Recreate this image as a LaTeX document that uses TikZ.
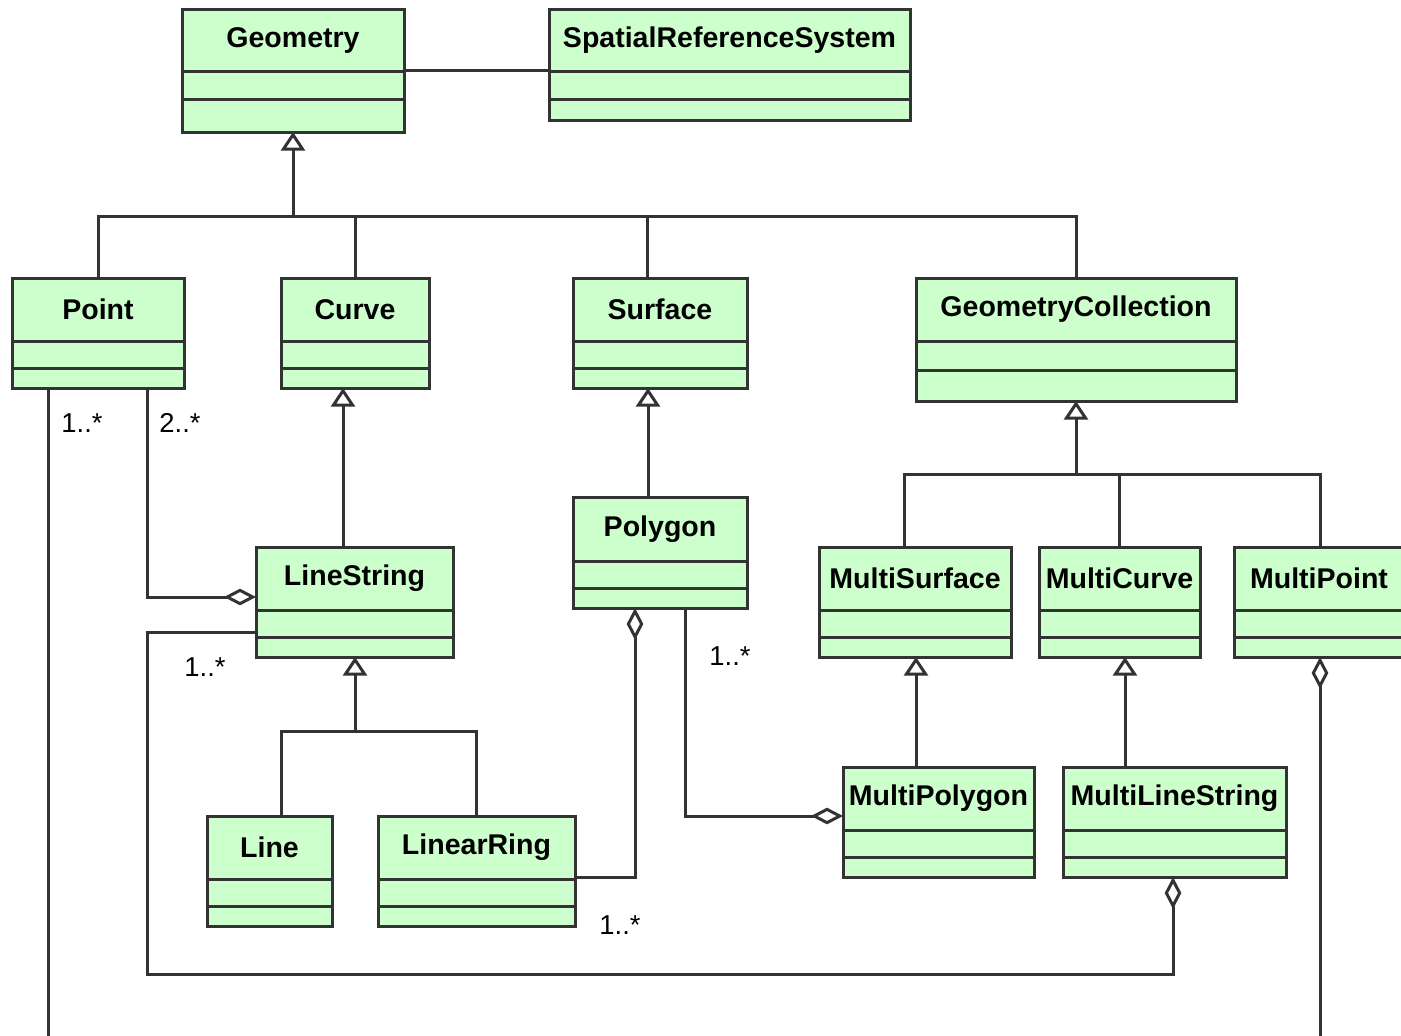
\documentclass[tikz,border=0pt]{standalone}
\usepackage{fontspec}
\setmainfont{Liberation Sans}
\usetikzlibrary{arrows.meta,fit,calc}
\definecolor{umlfill}{HTML}{CCFFCC}
\definecolor{umlline}{HTML}{333333}
\tikzset{
  clsbox/.style={draw=umlline, fill=umlfill, line width=2.25pt, inner sep=0pt, outer sep=0pt},
  clstitle/.style={font=\bfseries\fontsize{21.4}{24}\selectfont, inner sep=0pt},
  divider/.style={draw=umlline, line width=2.25pt},
  conn/.style={draw=umlline, line width=2.25pt},
  gen/.style={conn, {Triangle[open, length=14pt, width=18pt]}-},
  agg/.style={conn, -{Diamond[open, length=24pt, width=12.5pt]}},
  aggs/.style={conn, {Diamond[open, length=24pt, width=12.5pt]}-},
  mult/.style={font=\fontsize{20.5}{23}\selectfont, inner sep=0pt},
}
\newcommand\umlclass[8]{%
  \node[clsbox, fit={(#2,#3) (#4,#5)}] (#1) {};
  \draw[divider] (#2,#6) -- (#4,#6) (#2,#7) -- (#4,#7);
  \node[clstitle] (#1-t) at ({(#2+#4)/2},{(#3+#6)/2}) {#8};
}
\begin{document}
\begin{tikzpicture}[x=0.75pt, y=-0.75pt]
\useasboundingbox (0,0) rectangle (1401,1035);
\clip (0,0) rectangle (1401,1035);
\fill[white] (0,0) rectangle (1401,1035);

\umlclass{geom}{182}{9}{404}{132}{71}{99}{Geometry}
\umlclass{srs}{549}{9}{910}{120}{71}{99}{SpatialReferenceSystem}
\umlclass{pt}{12}{278}{184}{388}{341}{368}{Point}
\umlclass{crv}{281}{278}{429}{388}{341}{368}{Curve}
\umlclass{srf}{573}{278}{747}{388}{341}{368}{Surface}
\umlclass{gc}{916}{278}{1236}{401}{341}{370}{GeometryCollection}
\umlclass{pg}{573}{497}{747}{608}{561}{588}{Polygon}
\umlclass{ls}{256}{547}{453}{657}{610}{637}{LineString}
\umlclass{ms}{819}{547}{1011}{657}{610}{637}{MultiSurface}
\umlclass{mc}{1039}{547}{1200}{657}{610}{637}{MultiCurve}
\umlclass{mp}{1234}{547}{1404}{657}{610}{637}{MultiPoint}
\umlclass{ln}{207}{816}{332}{926}{879}{906}{Line}
\umlclass{lr}{378}{816}{575}{926}{879}{906}{LinearRing}
\umlclass{mpg}{843}{767}{1034}{877}{830}{857}{MultiPolygon}
\umlclass{mls}{1063}{767}{1286}{877}{830}{857}{MultiLineString}

% helper coordinates
\coordinate (j1) at (293,216);
\coordinate (j2) at (1076,474);
\coordinate (j3) at (355,731);
\coordinate (xSrf) at (647,0);
\coordinate (xCl) at (343,0);
\coordinate (xSp) at (648,0);
\coordinate (xMs) at (904,0);
\coordinate (xMc) at (1119,0);
\coordinate (xMcL) at (1125,0);
\coordinate (xMsL) at (916,0);
\coordinate (xLn) at (281,0);
\coordinate (xP1) at (48,0);
\coordinate (xP2) at (147,0);
\coordinate (xPg1) at (635,0);
\coordinate (xPg2) at (685,0);
\coordinate (xMls) at (1173,0);
\coordinate (xMp) at (1320,0);
\coordinate (c1) at (147,974);
\coordinate (pbot) at (48,1045);
\coordinate (mpbot) at (1320,1045);

% association Geometry -- SRS
\draw[conn] (geom.east) -- (geom.east -| srs.west);

% generalizations from Geometry
\draw[gen] (geom.south -| j1) -- (j1);
\draw[conn] (pt.north) |- (gc.north |- j1) -- (gc.north);
\draw[conn] (crv.north) -- (crv.north |- j1);
\draw[conn] (srf.north -| xSrf) -- (xSrf |- j1);

\draw[gen] (crv.south -| xCl) -- (ls.north -| xCl);
\draw[gen] (srf.south -| xSp) -- (pg.north -| xSp);

% GeometryCollection children
\draw[gen] (gc.south) -- (j2);
\draw[conn] (ms.north -| xMs) |- (xMp |- j2) -- (mp.north -| xMp);
\draw[conn] (mc.north -| xMc) -- (xMc |- j2);

% LineString children
\draw[gen] (ls.south -| j3) -- (j3);
\draw[conn] (ln.north -| xLn) |- (lr.north |- j3) -- (lr.north);

\draw[gen] (ms.south -| xMsL) -- (mpg.north -| xMsL);
\draw[gen] (mc.south -| xMcL) -- (mls.north -| xMcL);

% aggregations
\draw[conn] (pt.south -| xP1) -- (pbot);
\draw[aggs] (mp.south -| xMp) -- (mpbot);
\draw[agg] (pt.south -| xP2) |- ($(ls.north west)+(0,50)$);
\draw[aggs] (mls.south -| xMls) -- (xMls |- c1) -- (c1) |- ($(ls.north west)+(0,85)$);
\draw[agg] ($(lr.north east)+(0,61)$) -| (pg.south -| xPg1);
\draw[agg] (pg.south -| xPg2) |- ($(mpg.north west)+(0,49)$);

% multiplicities
\node[mult] (m1) at (82,423) {1..*};
\node[mult] (m2) at (180,423) {2..*};
\node[mult] (m3) at (205,667) {1..*};
\node[mult] (m4) at (730,656) {1..*};
\node[mult] (m5) at (620,925) {1..*};
\end{tikzpicture}
\end{document}
